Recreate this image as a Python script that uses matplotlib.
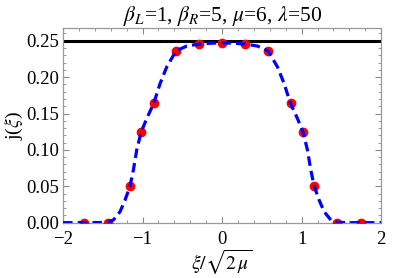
import numpy as np
import matplotlib
matplotlib.use("Agg")
import matplotlib.pyplot as plt
from matplotlib.ticker import MultipleLocator

plt.rcParams['font.family'] = ['Liberation Serif', 'DejaVu Serif']
plt.rcParams['mathtext.fontset'] = 'stix'

# red sample points (left half incl. centre; mirrored)
pts_x_half = [-1.74, -1.44, -1.155, -1.015, -0.86, -0.578, -0.29, 0.0]
pts_y_half = [0.0, 0.0, 0.050, 0.124, 0.164, 0.236, 0.2455, 0.247]

# dashed curve (left half; mirrored)
cur_x_half = [-2.0, -1.6, -1.443, -1.367, -1.283, -1.220, -1.157, -1.115, -1.073,
              -1.019, -0.948, -0.859, -0.78, -0.696, -0.579, -0.444, -0.285, -0.14, 0.0]
cur_y_half = [0.0, 0.0, 0.0005, 0.0037, 0.0151, 0.031, 0.0504, 0.0724, 0.0999,
              0.124, 0.143, 0.164, 0.191, 0.214, 0.236, 0.2427, 0.2455, 0.2466, 0.247]

hline_y = 0.25

def mirror(xh, yh):
    x = list(xh) + [-v for v in reversed(xh[:-1])]
    y = list(yh) + list(reversed(yh[:-1]))
    return x, y

px, py = mirror(pts_x_half, pts_y_half)
cx, cy = mirror(cur_x_half, cur_y_half)

fig = plt.figure(figsize=(4.09, 2.78), dpi=100)
ax = fig.add_axes([0.154, 0.199, 0.778, 0.699])

ax.axhline(hline_y, color='black', lw=2.2, zorder=2)
ax.plot(px, py, 'o', color='red', ms=6, zorder=3)
ax.plot(cx, cy, color='blue', lw=2.3, dashes=(3.0, 1.6), zorder=4)

ax.set_xlim(-2, 2)
ax.set_ylim(0, 0.267)
ax.xaxis.set_major_locator(MultipleLocator(1))
ax.xaxis.set_minor_locator(MultipleLocator(0.2))
ax.yaxis.set_major_locator(MultipleLocator(0.05))
ax.yaxis.set_minor_locator(MultipleLocator(0.01))
ax.yaxis.set_major_formatter(matplotlib.ticker.FormatStrFormatter('%.2f'))
ax.tick_params(which='both', direction='in', top=True, right=True, color='#888888',
               labelsize=13.5)
ax.tick_params(which='major', length=4, width=0.8)
ax.tick_params(which='minor', length=2, width=0.6)
ax.tick_params(axis='y', which='major', pad=3)
ax.tick_params(axis='x', which='major', pad=6)
for s in ax.spines.values():
    s.set_color('#999999')
    s.set_linewidth(0.9)

ax.set_title(r"$\beta_L$=1, $\beta_R$=5, $\mu$=6, $\lambda$=50", fontsize=15.5, pad=5)
ax.set_xlabel(r"$\xi/\sqrt{2\,\mu}$", fontsize=14, labelpad=0)
ax.set_ylabel(r"j($\xi$)", fontsize=14, labelpad=1)

fig.savefig("out.png", dpi=100)
